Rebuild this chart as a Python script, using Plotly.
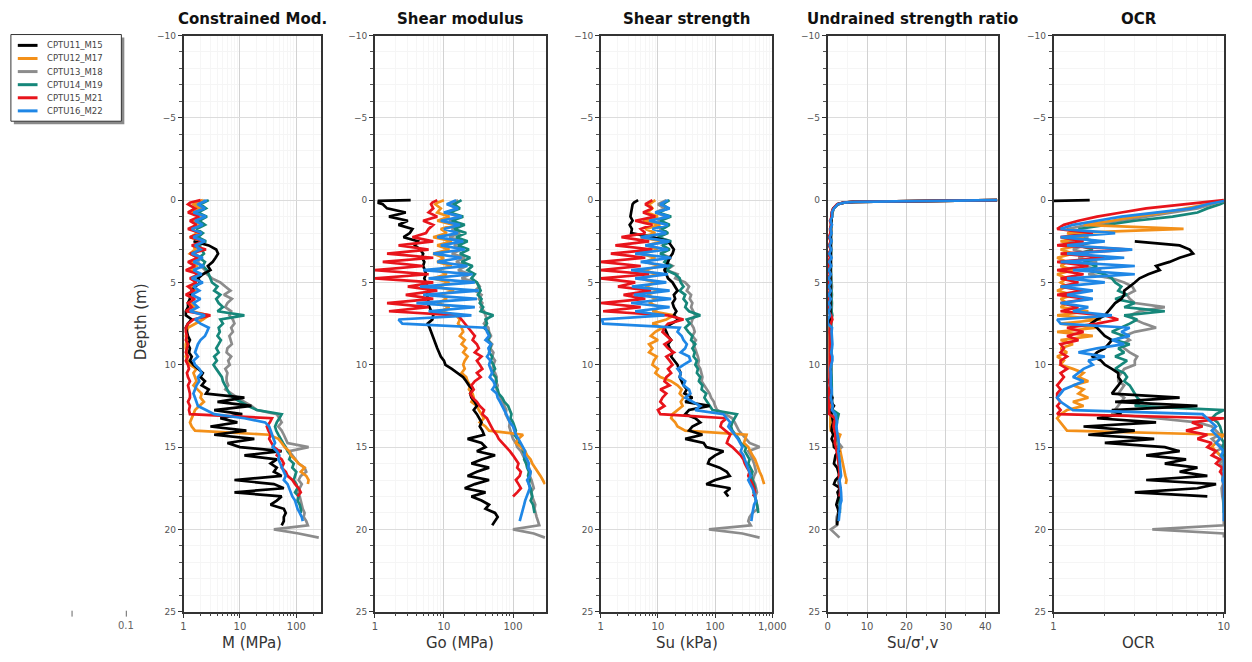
import plotly.graph_objects as go

W, H = 1252, 662
N = None

SERIES = ["CPTU11_M15", "CPTU12_M17", "CPTU13_M18", "CPTU14_M19", "CPTU15_M21", "CPTU16_M22"]
COLORS = ["#000000", "#F39019", "#8C8C8C", "#16877A", "#E8141B", "#1F87E6"]

DEPTH = [0, 0.05, 0.1, 0.15, 0.25, 0.5, 0.75,
         1, 1.25, 1.5, 1.75, 2, 2.25, 2.5, 2.75, 3, 3.25, 3.5, 3.75,
         4, 4.25, 4.5, 4.75, 5, 5.25, 5.5, 5.75, 6, 6.25, 6.5, 6.75,
         7, 7.25, 7.5, 7.75, 8, 8.25, 8.5, 8.75, 9, 9.25, 9.5, 9.75,
         10, 10.25, 10.5, 10.75, 11, 11.25, 11.5, 11.75, 12, 12.25, 12.5, 12.75,
         13, 13.25, 13.5, 13.75, 14, 14.25, 14.5, 14.75, 15, 15.25, 15.5, 15.75,
         16, 16.25, 16.5, 16.75, 17, 17.25, 17.5, 17.75, 18, 18.25, 18.5, 18.75,
         19, 19.25, 19.5, 19.75, 20, 20.25, 20.5]

# ---------------- Constrained modulus M (MPa) ----------------
M_11 = [N, N, N, N, N, N, N,
        N, N, N, N,  N, N, 1.5, 2.8,  3.8, 4.1, 3.7, 3.3,  2.7, 3.0, 2.2, 1.8,
        2.0, 1.6, 1.4, 1.3,  1.3, 1.2, 1.2, 1.1,  1.1, 1.4, 1.2, 1.1,  1.15, 1.2, 1.3, 1.2,
        1.3, 1.25, 1.4, 1.3,  1.5, 1.8, 2.2, 2.0,  2.4, 2.1, 2.8, 2.5,  12, 4.0, 16, 3.5,
        11, 4.5, 9, 3.0,  13, 3.5, 18, 6,  10, 55, 12, 45,  35, 45, 40, 55,
        8, 40, 60, 8,  55, 45, 35, 60,  65, 60, 60, 55]
M_12 = [2.2, 2.0, 1.8, 1.6, 1.5, 1.9, 1.4,
        2.3, 1.5, 2.0, 1.4,  1.8, 1.3, 2.2, 1.5,  1.6, 1.3, 1.9, 1.4,  1.7, 1.3, 2.0, 1.5,
        1.6, 1.4, 1.8, 1.3,  1.5, 1.3, 1.6, 1.4,  2.8, 2.2, 1.6, 1.2,  1.15, 1.1, 1.15, 1.1,
        1.1, 1.15, 1.1, 1.2,  1.3, 1.7, 1.5, 1.6,  1.7, 1.5, 1.8, 2.1,  2.0, 2.3, 1.9, 1.6,
        1.5, 1.4, 1.3, 1.4,  1.6, 33, 48, 55,  62, 75, 80, 95,  110, 140, 120, 150,
        165, 160]
M_13 = [2.4, 2.2, 2.0, 1.8, 1.7, 2.1, 1.6,
        2.2, 1.7, 2.0, 1.5,  1.9, 1.6, 2.1, 1.7,  1.8, 1.6, 2.0, 1.8,  2.0, 2.4, 2.6, 3.2,
        4.5, 5.5, 6.8, 5.2,  7.2, 6.0, 5.5, 7.0,  6.5, 7.5, 8.0, 7.0,  7.5, 6.5, 6.8, 7.2,
        6.0, 5.8, 7.0, 6.2,  6.6, 5.5, 6.0, 5.8,  5.8, 6.2, 5.5, 7.0,  9, 12, 16, 20,
        45, 50, 55, 48,  55, 60, 65, 70,  165, 75, 85, 95,  110, 140, 150, 120,
        110, 125, 115, 105,  115, 120, 125, 130,  140, 135, 150, 160,  40, 110, 250]
M_14 = [2.8, 2.6, 2.4, 2.2, 2.0, 2.5, 1.8,
        2.6, 1.9, 2.4, 1.7,  2.2, 1.8, 2.5, 1.9,  2.1, 2.3, 1.9, 2.4,  2.2, 2.6, 2.8, 3.0,
        3.2, 4.0, 3.5, 4.5,  3.8, 4.2, 5.0, 4.0,  12, 4.5, 5.0, 4.2,  4.4, 4.0, 4.6, 4.2,
        3.8, 4.2, 3.5, 3.9,  3.4, 3.8, 4.2, 4.8,  5.0, 5.5, 6.0, 6.5,  7.5, 10, 14, 20,
        55, 50, 45, 42,  44, 48, 52, 58,  65, 70, 80, 75,  90, 85, 100, 95,
        90, 100, 105, 95,  110, 105, 115, 120,  120]
M_15 = [2.0, 1.8, 1.5, 1.3, 1.2, 1.6, 1.2,
        1.9, 1.3, 1.7, 1.2,  2.0, 1.3, 2.3, 1.4,  2.5, 1.3, 1.8, 1.2,  1.6, 1.1, 1.9, 1.3,
        1.7, 1.2, 1.5, 1.1,  1.6, 1.2, 1.4, 1.1,  3.0, 1.5, 1.2, 1.1,  1.1, 1.15, 1.1, 1.2,
        1.15, 1.1, 1.2, 1.1,  1.2, 1.25, 1.15, 1.2,  1.3, 1.2, 1.25, 1.3,  1.3, 1.2, 1.3, 1.25,
        1.3, 37, 34, 30,  32, 35, 33, 36,  40, 50, 45, 55,  60, 55, 65, 70,
        85, 95, 110, 120,  105]
M_16 = [2.6, 2.4, 2.2, 2.0, 1.8, 2.4, 1.5,
        2.5, 1.6, 2.2, 1.4,  2.1, 1.5, 2.4, 1.6,  2.0, 1.4, 2.2, 1.5,  2.3, 1.5, 2.1, 1.4,
        2.2, 1.5, 1.9, 1.4,  2.0, 1.5, 1.8, 1.3,  2.4, 1.6, 2.0, 2.8,  2.6, 2.4, 2.0, 1.8,
        1.7, 1.6, 1.8, 1.5,  1.6, 1.9, 2.1, 1.8,  1.9, 1.7, 1.6, 1.5,  1.6, 1.7, 1.8, 2.5,
        3.5, 12, 28, 33,  35, 38, 40, 42,  38, 45, 50, 48,  52, 55, 60, 65,
        60, 70, 75, 80,  85, 95, 100, 105,  115, 125, 130]

# ---------------- Shear modulus Go (MPa) ----------------
G_11 = [3.3, 1.1, 1.2, 1.1, 1.3, 1.5, 2.8,
        1.6, 3.0, 2.2, 3.5,  3.2, 2.6, 4.2, 3.8,  4.5, 5.0, 4.8, 5.2,  5.0, 5.3, 5.5, 5.2,
        5.5, 5.8, 6.0, 5.6,  6.0, 5.8, 6.2, 6.5,  7.0, 6.8, 5.8, 6.2,  6.5, 6.8, 7.2, 7.5,
        8.0, 8.5, 9.0, 10,  10.5, 13, 16, 19,  21, 23, 26, 24,  25, 28, 30, 27,
        30, 32, 35, 33,  36, 38, 22, 35,  40, 30, 55, 35,  25, 45, 30, 22,
        45, 28, 20, 40,  25, 35, 45, 40,  55, 60, 55, 50]
G_12 = [10, 9, 8.5, 8, 7.5, 9, 8,
        12, 8, 14, 9,  11, 7, 13, 8,  12, 7, 10, 8,  13, 8, 11, 7,
        12, 8, 14, 9,  11, 8, 12, 9,  15, 17, 16, 18,  19, 17, 20, 18,
        21, 19, 22, 20,  19, 20, 18, 21,  22, 24, 23, 26,  27, 25, 30, 32,
        35, 38, 33, 40,  45, 140, 120, 110,  130, 150, 160, 180,  190, 210, 230, 250,
        270, 290]
G_13 = [16, 15, 14, 13, 12, 15, 11,
        16, 12, 18, 13,  17, 12, 19, 14,  18, 13, 20, 15,  21, 16, 24, 18,
        30, 33, 28, 35,  32, 36, 34, 38,  40, 42, 38, 44,  45, 48, 44, 50,
        47, 52, 50, 55,  52, 50, 55, 58,  56, 60, 58, 62,  65, 70, 75, 80,
        78, 85, 90, 88,  92, 95, 100, 110,  115, 130, 140, 150,  160, 170, 180, 175,
        185, 190, 200, 180,  190, 200, 210, 205,  215, 220, 230, 240,  100, 200, 290]
G_14 = [18, 17, 16, 15, 14, 17, 12,
        19, 13, 20, 14,  21, 15, 22, 16,  23, 17, 24, 18,  26, 22, 28, 25,
        30, 32, 34, 31,  35, 33, 37, 34,  52, 40, 42, 38,  44, 46, 43, 48,
        47, 45, 50, 48,  52, 55, 50, 56,  58, 55, 60, 62,  70, 75, 85, 90,
        95, 92, 100, 105,  110, 105, 115, 120,  135, 140, 150, 145,  155, 160, 170, 165,
        175, 170, 180, 185,  190, 180, 195, 200,  205]
G_15 = [8, 7.5, 7, 6.8, 6.5, 7, 6,
        8, 5, 7, 6,  5.5, 3.5, 7, 2.2,  6, 1.5, 7, 1.3,  5, 1.0, 6, 1.0,
        7, 3, 8, 2.8,  7, 1.5, 6, 1.6,  16, 18, 20, 22,  25, 28, 26, 30,
        32, 28, 35, 30,  33, 36, 30, 34,  28, 25, 27, 24,  26, 30, 33, 38,
        36, 42, 45, 48,  52, 58, 62, 70,  80, 90, 100, 110,  120, 115, 130, 125,
        110, 120, 130, 115,  100]
G_16 = [15, 14, 13, 12, 11, 16, 10,
        18, 9, 17, 10,  16, 8, 19, 9,  20, 7, 18, 8,  22, 5, 26, 6,
        28, 4.5, 32, 5,  30, 4, 28, 6,  25, 2.2, 2.5, 40,  42, 45, 40, 48,
        44, 46, 42, 47,  45, 48, 50, 46,  52, 55, 50, 58,  60, 65, 70, 75,
        80, 85, 90, 100,  105, 110, 120, 130,  140, 150, 145, 160,  170, 165, 180, 175,
        160, 170, 175, 165,  155, 150, 145, 140,  135, 130, 125]

# ---------------- Undrained shear strength Su (kPa) ----------------
SU_11 = [4.5, 4.2, 4.0, 3.8, 3.6, 3.5, 3.4,
         3.3, 3.6, 3.2, 3.5,  3.4, 8, 15, 17,  19, 18, 16, 15,  14, 13, 14, 15,
         18, 20, 22, 19,  20, 18, 19, 21,  19, 23, 17, 13,  14, 15, 17, 15,
         16, 18, 17, 19,  22, 23, 25, 24,  26, 28, 32, 29,  40, 30, 80, 35,
         30, 45, 55, 40,  35, 60, 30, 63,  70, 140, 100, 80,  75, 120, 160, 180,
         100, 70, 184, 150,  170]
SU_12 = [9, 8.5, 8, 7.5, 7, 8, 6.5,
         10, 5.5, 11, 6,  9, 5, 12, 6.5,  10, 5, 9, 6,  11, 5.5, 10, 5,
         9, 6, 10, 6.5,  9, 7, 11, 8,  19, 14, 8, 12,  9, 7.5, 10, 7,
         8, 7, 9.5, 8.5,  8, 10, 9, 11,  17, 22, 26, 24,  28, 25, 27, 22,
         18, 17, 20, 22,  30, 355, 340, 320,  380, 410, 450, 500,  530, 560, 600, 650,
         695, 720]
SU_13 = [14, 13, 12, 11, 10, 13, 9,
         14, 10, 15, 11,  14, 10, 16, 12,  15, 11, 17, 13,  18, 14, 22, 20,
         30, 35, 32, 38,  36, 40, 38, 42,  45, 40, 38, 42,  44, 40, 46, 42,
         45, 48, 50, 52,  50, 55, 58, 60,  58, 65, 72, 80,  85, 95, 100, 108,
         150, 200, 220, 240,  260, 300, 340, 400,  600, 380, 420, 450,  480, 500, 520, 480,
         460, 500, 520, 540,  500, 520, 540, 560,  450, 400, 380, 420,  78, 300, 600]
SU_14 = [16, 15, 14, 13, 12, 15, 10,
         17, 11, 16, 12,  15, 10, 17, 12,  16, 11, 15, 13,  17, 14, 20, 24,
         25, 28, 24, 30,  28, 32, 30, 35,  55, 32, 36, 30,  34, 40, 38, 45,
         40, 44, 42, 48,  45, 50, 48, 55,  52, 60, 58, 70,  65, 72, 80, 90,
         240, 220, 200, 190,  200, 230, 260, 280,  350, 330, 360, 400,  380, 420, 450, 430,
         450, 480, 500, 470,  500, 520, 540, 560,  570]
SU_15 = [8, 7.5, 7, 6.5, 6, 8, 5.5,
         9, 4, 8, 5,  6, 2.3, 7, 1.8,  8, 1.5, 6, 1.0,  5, 1.0, 7, 1.0,
         4, 2.0, 7.6, 2.5,  6, 1.0, 5, 1.1,  15, 28, 15, 13,  12, 14, 17, 13,
         15, 19, 14, 16,  18, 15, 17, 14,  13, 16, 11, 14,  12, 11, 13, 10,
         11, 160, 130, 124,  150, 184, 170, 160,  200, 240, 280, 313,  330, 360, 400, 380,
         420, 450, 480, 500,  460]
SU_16 = [15, 14, 13, 12, 11, 16, 9,
         16, 7, 15, 8,  14, 5, 16, 6,  15, 4, 17, 5,  16, 3.4, 15, 4,
         14, 3.5, 16, 3.8,  17, 3.4, 16, 4,  13, 1.05, 1.1, 24,  22, 26, 28, 32,
         30, 25, 35, 37,  28, 22, 25, 24,  30, 28, 35, 37,  30, 40, 55, 45,
         140, 160, 184, 170,  190, 220, 250, 270,  300, 280, 313, 330,  350, 380, 400, 420,
         380, 420, 450, 480,  500, 520, 480, 460,  450, 440, 430]

# ---------------- Undrained strength ratio Su/sigma'v ----------------
R_11 = [43, 14, 6.5, 4, 2.5, 1.4, 1.1,
        1.0, 0.9, 0.9, 0.8,  0.8, 0.8, 0.9, 0.9,  0.9, 0.9, 0.8, 0.8,  0.8, 0.7, 0.7, 0.8,
        0.8, 0.8, 0.7, 0.7,  0.7, 0.7, 0.7, 0.7,  0.7, 0.7, 0.6, 0.6,  0.6, 0.6, 0.6, 0.6,
        0.6, 0.6, 0.6, 0.6,  0.6, 0.6, 0.7, 0.7,  0.7, 0.7, 0.7, 0.7,  1.2, 0.8, 1.6, 0.9,
        1.0, 1.3, 1.4, 1.1,  1.0, 1.4, 1.0, 1.5,  1.6, 2.8, 2.0, 1.8,  1.6, 2.4, 2.8, 3.0,
        2.0, 1.6, 3.2, 2.5,  2.8, 2.4, 2.2, 2.6,  2.8, 2.6, 2.5, 2.4]
R_12 = [43, 15, 7, 4.2, 2.6, 1.5, 1.2,
        1.1, 0.8, 1.0, 0.8,  0.9, 0.7, 0.9, 0.7,  0.8, 0.6, 0.8, 0.6,  0.7, 0.6, 0.7, 0.6,
        0.6, 0.6, 0.6, 0.6,  0.6, 0.6, 0.6, 0.6,  0.7, 0.6, 0.5, 0.5,  0.5, 0.5, 0.5, 0.5,
        0.5, 0.5, 0.5, 0.5,  0.5, 0.5, 0.5, 0.6,  0.6, 0.7, 0.7, 0.7,  0.7, 0.7, 0.7, 0.6,
        0.6, 0.6, 0.6, 0.7,  0.8, 3.2, 2.8, 2.6,  3.0, 3.2, 3.4, 3.6,  3.8, 4.0, 4.2, 4.5,
        4.8, 4.6]
R_13 = [43, 15, 7, 4.2, 2.6, 1.5, 1.2,
        1.1, 0.9, 1.0, 0.9,  1.0, 0.8, 1.0, 0.8,  0.9, 0.8, 0.9, 0.8,  0.9, 0.8, 0.9, 0.9,
        1.0, 1.1, 1.0, 1.1,  1.0, 1.1, 1.0, 1.0,  1.0, 0.9, 0.9, 0.9,  0.9, 0.9, 0.9, 0.9,
        0.9, 0.9, 0.9, 0.9,  0.9, 0.9, 0.9, 0.9,  0.9, 0.9, 1.0, 1.0,  1.1, 1.2, 1.3, 1.3,
        1.6, 1.9, 2.0, 2.1,  2.2, 2.3, 2.5, 2.8,  3.6, 2.4, 2.5, 2.6,  2.8, 2.9, 3.0, 2.8,
        2.6, 2.8, 2.9, 3.0,  2.8, 2.9, 3.0, 3.1,  2.6, 2.3, 2.2, 2.3,  0.8, 1.8, 3.0]
R_14 = [43, 15, 7, 4.2, 2.6, 1.6, 1.2,
        1.1, 0.9, 1.0, 0.8,  0.9, 0.8, 0.9, 0.8,  0.9, 0.8, 0.8, 0.8,  0.8, 0.8, 0.9, 0.9,
        0.9, 0.9, 0.9, 1.0,  0.9, 1.0, 0.9, 1.0,  1.2, 0.9, 0.9, 0.8,  0.8, 0.9, 0.8, 0.9,
        0.9, 0.9, 0.9, 0.9,  0.9, 0.9, 0.9, 1.0,  1.0, 1.0, 1.0, 1.1,  1.1, 1.1, 1.2, 1.3,
        2.8, 2.5, 2.3, 2.1,  2.2, 2.3, 2.4, 2.5,  2.8, 2.6, 2.7, 2.8,  2.8, 2.9, 3.0, 2.9,
        2.9, 3.0, 3.0, 2.9,  3.0, 3.0, 3.1, 3.1,  3.1]
R_15 = [43, 14, 6.5, 4, 2.4, 1.4, 1.0,
        1.0, 0.6, 0.9, 0.6,  0.7, 0.3, 0.8, 0.3,  0.8, 0.2, 0.6, 0.1,  0.5, 0.1, 0.6, 0.1,
        0.4, 0.2, 0.6, 0.2,  0.5, 0.1, 0.4, 0.1,  0.9, 1.2, 0.8, 0.6,  0.5, 0.6, 0.6, 0.5,
        0.5, 0.6, 0.5, 0.5,  0.5, 0.5, 0.5, 0.5,  0.4, 0.5, 0.4, 0.4,  0.4, 0.4, 0.4, 0.4,
        0.4, 1.9, 1.6, 1.5,  1.7, 2.0, 1.9, 1.8,  2.1, 2.3, 2.5, 2.7,  2.8, 2.9, 3.0, 2.9,
        3.0, 3.1, 3.2, 3.2,  3.0]
R_16 = [43, 15, 7, 4.2, 2.6, 1.6, 1.1,
        1.2, 0.7, 1.1, 0.7,  1.0, 0.5, 1.0, 0.5,  0.9, 0.4, 1.0, 0.4,  0.9, 0.3, 0.8, 0.3,
        0.8, 0.3, 0.8, 0.3,  0.8, 0.3, 0.7, 0.3,  0.6, 0.05, 0.05, 1.1,  1.0, 1.1, 1.1, 1.2,
        1.1, 0.9, 1.2, 1.2,  0.9, 0.7, 0.8, 0.8,  0.9, 0.8, 1.0, 1.0,  0.8, 1.0, 1.3, 1.1,
        2.0, 2.2, 2.4, 2.2,  2.3, 2.5, 2.7, 2.8,  2.9, 2.7, 2.9, 3.0,  3.1, 3.2, 3.3, 3.4,
        3.0, 3.2, 3.3, 3.4,  3.4, 3.5, 3.2, 3.1,  3.0, 2.9, 2.8]

# ---------------- OCR ----------------
OCR_11 = [1.63, 1.0, N, N, N, N, N,
          N, N, N, N,  N, N, 3.0, 5.5,  6.3, 6.6, 5.5, 4.8,  4.0, 4.2, 3.6, 3.2,
          3.0, 2.8, 2.6, 2.6,  2.5, 2.3, 2.2, 2.1,  2.0, 1.8, 1.66, 1.8,  1.9, 2.0, 2.2, 2.1,
          2.0, 1.8, 1.7, 1.9,  2.0, 2.2, 2.4, 2.4,  2.5, 2.4, 2.3, 2.2,  5.5, 2.3, 7.0, 2.2,
          2.5, 1.8, 4.0, 1.5,  3.0, 1.6, 3.9, 2.0,  4.5, 5.5, 3.5, 6.0,  4.5, 7.0, 5.5, 8.0,
          3.5, 9.0, 7.0, 3.0,  8.0]
OCR_12 = [10, 10, 9.5, 9, 8, 6, 4.5,
          3.0, 2.2, 1.5, 5.8,  1.2, 1.5, 1.1, 1.4,  1.1, 1.3, 1.05, 1.2,  1.1, 1.3, 1.05, 1.2,
          1.1, 1.2, 1.05, 1.3,  1.1, 1.2, 1.1, 1.6,  1.05, 1.9, 1.1, 1.8,  1.05, 1.7, 1.1, 1.3,
          1.1, 1.2, 1.05, 1.15,  1.1, 1.3, 1.5, 1.4,  1.6, 1.3, 1.5, 1.4,  1.6, 1.3, 1.5, 1.2,
          1.1, 1.05, 1.1, 1.15,  1.2, 10, 9.5, 9,  8.5, 9, 9.5, 10,  10, 10, 10, 10,
          10, 10]
OCR_13 = [10, 10, 9.5, 9, 8.5, 7, 5,
          3.5, 2.5, 1.6, 1.2,  1.3, 1.6, 1.2, 1.5,  1.3, 1.6, 1.4, 1.8,  1.5, 1.9, 1.6, 2.2,
          2.6, 2.9, 3.0, 2.7,  2.8, 3.0, 4.5, 3.2,  2.8, 3.0, 3.4, 4.0,  3.0, 2.6, 2.8, 2.5,
          2.6, 2.8, 3.1, 3.0,  3.0, 2.6, 2.5, 2.4,  2.4, 2.6, 2.5, 2.4,  2.6, 2.5, 2.4, 2.3,
          2.2, 4.0, 7.0, 8.5,  9, 9.5, 8.5, 9,  10, 9, 9.5, 9.8,  9.5, 9.8, 9.6, 9.8,
          9.8, 9.9, 9.7, 9.8,  9.8, 9.9, 10, 10,  10, 10, 10, 10,  3.8, 10, 10]
OCR_14 = [10, 10, 10, 10, 9.5, 8, 7,
          5, 3, 2, 1.4,  1.6, 1.3, 1.8, 1.4,  1.7, 1.4, 1.9, 1.5,  1.8, 1.6, 2.0, 2.2,
          2.3, 2.5, 2.4, 2.7,  2.3, 3.0, 2.6, 4.5,  2.6, 3.1, 2.8, 2.5,  2.2, 2.6, 2.3, 2.8,
          2.4, 2.6, 2.3, 2.7,  2.5, 2.3, 2.6, 2.7,  2.6, 2.8, 2.9, 3.0,  3.1, 3.3, 3.0, 10,
          9, 8.5, 9.2, 9.5,  9.6, 9.8, 9.7, 10,  9.8, 9.9, 10, 10,  10, 10, 10, 10,
          10, 10, 10, 10,  10, 10, 10, 10,  10]
OCR_15 = [10, 9, 8, 7, 5.5, 3.5, 2.5,
          1.8, 1.4, 1.15, 1.05,  1.7, 1.1, 1.5, 1.05,  2.8, 1.1, 2.0, 1.05,  1.6, 1.05, 1.5, 1.1,
          1.4, 1.1, 1.5, 1.05,  1.6, 1.1, 1.4, 1.1,  2.0, 2.4, 1.8, 1.2,  1.5, 1.2, 1.4, 1.1,
          1.15, 1.1, 1.2, 1.1,  1.1, 1.2, 1.1, 1.15,  1.1, 1.05, 1.1, 1.05,  1.05, 1.1, 1.05, 1.1,
          1.05, 10, 6.5, 7.5,  6, 8, 7, 8.5,  8, 9, 8.5, 9.5,  9, 9.8, 9.5, 10,
          10, 10, 10, 10,  10]
OCR_16 = [10, 10, 9.5, 9, 8, 6.5, 4,
          2.5, 1.8, 1.3, 1.1,  2.3, 1.1, 2.0, 1.2,  2.9, 1.2, 2.6, 1.1,  3.0, 1.3, 3.0, 1.2,
          2.0, 1.1, 1.7, 1.2,  1.7, 1.1, 1.6, 1.3,  2.2, 1.05, 1.1, 2.8,  2.5, 2.8, 2.2, 2.6,
          1.8, 1.4, 2.0, 1.6,  1.7, 1.5, 1.4, 1.3,  1.5, 1.3, 1.15, 1.1,  1.05, 1.1, 1.2, 1.3,
          7.5, 8, 8.5, 9,  8.5, 9, 9.5, 9,  9.5, 10, 9.6, 10,  10, 10, 10, 10,
          9.8, 10, 10, 10,  10, 10, 10, 10,  10, 10, 10]

# ---------------- panel definitions ----------------
PANEL_TITLES = ["Constrained Mod.", "Shear modulus", "Shear strength",
                "Undrained strength ratio", "OCR"]
X_TITLES = ["M (MPa)", "Go (MPa)", "Su (kPa)", "Su/\u03c3',v", "OCR"]
PANEL_DATA = [
    [M_11, M_12, M_13, M_14, M_15, M_16],
    [G_11, G_12, G_13, G_14, G_15, G_16],
    [SU_11, SU_12, SU_13, SU_14, SU_15, SU_16],
    [R_11, R_12, R_13, R_14, R_15, R_16],
    [OCR_11, OCR_12, OCR_13, OCR_14, OCR_15, OCR_16],
]
AXIS_TYPES = ["log", "log", "log", "linear", "log"]
AXIS_RANGES = [[0, 2.431], [0, 2.471], [0, 3.002], [0, 43.3], [0, 1.002]]
TICK_FORMATS = ["", "", ",", "", ""]

# pixel layout
X_PIX = [(183, 322), (377, 550), (606, 780), (836, 1009), (1065, 1238)]
Y_TOP, Y_BOT = 31, 616
DRAW_ORDER = [2, 3, 1, 0, 4, 5]


def px(x):
    return x / W


def py(y):
    return 1 - y / H


fig = go.Figure()
for p in range(5):
    key = "" if p == 0 else str(p + 1)
    for s in DRAW_ORDER:
        vals = PANEL_DATA[p][s]
        fig.add_trace(go.Scatter(
            x=vals, y=DEPTH[:len(vals)], mode="lines",
            line=dict(color=COLORS[s], width=2.7),
            name=SERIES[s], showlegend=False, hoverinfo="skip",
            xaxis="x" + key, yaxis="y" + key))

axis_font = dict(family="DejaVu Sans", size=9, color="#555555")
layout_axes = {}
for p in range(5):
    key = "" if p == 0 else str(p + 1)
    x0, x1 = X_PIX[p]
    if AXIS_TYPES[p] == "log":
        minor = dict(dtick="D1", ticks="outside", ticklen=3, tickcolor="#444",
                     showgrid=True, gridcolor="#f6f6f6")
        xa = dict(type="log", dtick=1)
    else:
        minor = dict(dtick=5, ticks="outside", ticklen=3, tickcolor="#444",
                     showgrid=True, gridcolor="#f6f6f6")
        xa = dict(type="linear", dtick=10, tick0=0)
    xa.update(dict(
        domain=[px(x0), px(x1)], anchor="y" + key, range=AXIS_RANGES[p], autorange=False,
        showline=True, linecolor="#333333", linewidth=1.6, mirror=True,
        ticks="outside", ticklen=5, tickcolor="#333333",
        tickfont=dict(family="DejaVu Sans", size=10, color="#555555"),
        tickformat=TICK_FORMATS[p],
        showgrid=True, gridcolor="#d2d2d2", gridwidth=1, zeroline=False, minor=minor))
    ya = dict(
        domain=[py(Y_BOT), py(Y_TOP)], anchor="x" + key, range=[25, -10], autorange=False,
        tick0=-10, dtick=5, showline=True, linecolor="#333333", linewidth=1.6, mirror=True,
        ticks="outside", ticklen=4, tickcolor="#333333", tickfont=axis_font,
        showgrid=True, gridcolor="#dcdcdc", zeroline=False,
        minor=dict(dtick=1, ticks="outside", ticklen=3, tickcolor="#555",
                   showgrid=True, gridcolor="#f5f5f5"))
    layout_axes["xaxis" + key] = xa
    layout_axes["yaxis" + key] = ya

annotations = []
for p in range(5):
    x0, x1 = X_PIX[p]
    cx = (x0 + x1) / 2
    annotations.append(dict(
        text="<b>" + PANEL_TITLES[p] + "</b>", x=px(cx), y=py(14), xref="paper", yref="paper",
        showarrow=False, xanchor="center", yanchor="middle",
        font=dict(family="DejaVu Sans", size=15, color="#111111")))
    annotations.append(dict(
        text=X_TITLES[p], x=px(cx), y=py(648), xref="paper", yref="paper",
        showarrow=False, xanchor="center", yanchor="middle",
        font=dict(family="DejaVu Sans", size=15, color="#333333")))

annotations.append(dict(
    text="Depth (m)", x=px(140), y=py(322), xref="paper", yref="paper", textangle=-90,
    showarrow=False, xanchor="center", yanchor="middle",
    font=dict(family="DejaVu Sans", size=15, color="#333333")))
annotations.append(dict(
    text="0.1", x=px(125), y=py(630), xref="paper", yref="paper",
    showarrow=False, xanchor="center", yanchor="middle",
    font=dict(family="DejaVu Sans", size=10, color="#666666")))

# manual legend box
shapes = [
    dict(type="rect", xref="paper", yref="paper", x0=px(11), x1=px(123), y0=py(121), y1=py(33),
         fillcolor="#8a8a8a", line=dict(width=0), layer="above"),
    dict(type="rect", xref="paper", yref="paper", x0=px(8), x1=px(120), y0=py(118), y1=py(30),
         fillcolor="white", line=dict(color="#333333", width=1), layer="above"),
    dict(type="line", xref="paper", yref="paper", x0=px(70), x1=px(70), y0=py(615), y1=py(621),
         line=dict(color="#666666", width=1)),
    dict(type="line", xref="paper", yref="paper", x0=px(125), x1=px(125), y0=py(615), y1=py(621),
         line=dict(color="#666666", width=1)),
]
for i, name in enumerate(SERIES):
    yy = 41 + i * 13.3
    shapes.append(dict(type="line", xref="paper", yref="paper", x0=px(15), x1=px(35),
                       y0=py(yy), y1=py(yy), line=dict(color=COLORS[i], width=3), layer="above"))
    annotations.append(dict(
        text=name, x=px(43), y=py(yy), xref="paper", yref="paper", showarrow=False,
        xanchor="left", yanchor="middle",
        font=dict(family="DejaVu Sans", size=8.5, color="#444444")))

fig.update_layout(
    width=W, height=H, margin=dict(l=0, r=0, t=0, b=0),
    paper_bgcolor="white", plot_bgcolor="white", showlegend=False,
    annotations=annotations, shapes=shapes, **layout_axes)

fig.write_html("out.html")
